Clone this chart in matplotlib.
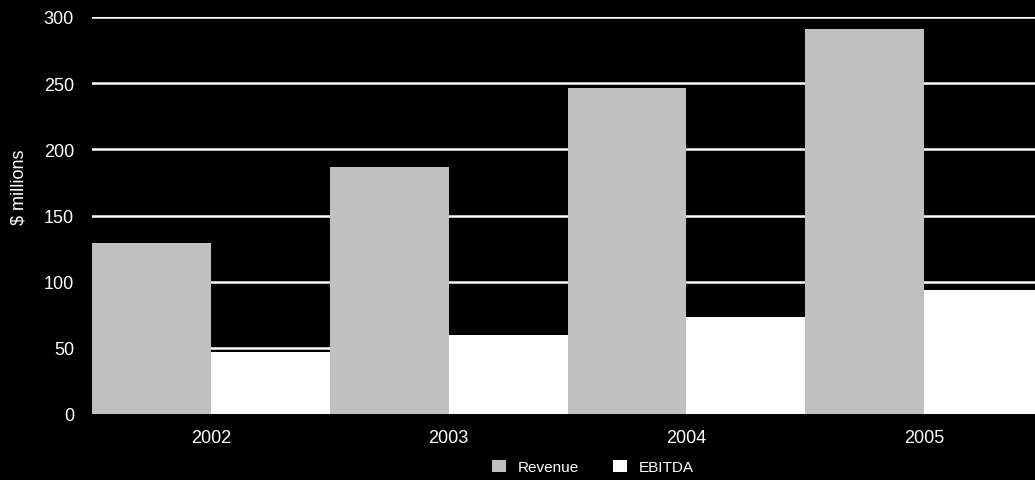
import matplotlib
matplotlib.use("Agg")
import matplotlib.pyplot as plt
from matplotlib.patches import Patch
import numpy as np

years = ["2002", "2003", "2004", "2005"]
revenue = [129, 187, 246, 291]
ebitda = [47, 60, 73, 94]

plt.rcParams["font.family"] = ["Liberation Sans", "DejaVu Sans"]

bg = "black"
rev_color = "#c0c0c0"
ebitda_color = "white"

fig = plt.figure(figsize=(10.35, 4.81), dpi=100, facecolor=bg)
ax = fig.add_axes([92 / 1035, 1 - 415 / 481, 1 - 92 / 1035, (415 - 18) / 481])
ax.set_facecolor(bg)

x = np.arange(len(years))
width = 0.5
ax.bar(x - width / 2, revenue, width, color=rev_color, zorder=3, linewidth=0)
ax.bar(x + width / 2, ebitda, width, color=ebitda_color, zorder=3, linewidth=0)

ax.set_xlim(-0.5, 3.466)
ax.set_ylim(0, 300)
ax.set_yticks(range(0, 301, 50))
ax.set_xticks(x)
ax.set_xticklabels(years)

for y in range(50, 301, 50):
    ax.axhline(y, color="white", linewidth=1.8, zorder=1)

for side in ax.spines.values():
    side.set_visible(False)
ax.tick_params(axis="both", length=0, colors="white", labelsize=13)
ax.tick_params(axis="y", pad=13)
ax.tick_params(axis="x", pad=11)

ax.set_ylabel("$ millions", color="white", fontsize=13)
ax.yaxis.set_label_coords(-0.068, 0.574)

handles = [
    Patch(facecolor=rev_color, edgecolor="none", label="Revenue"),
    Patch(facecolor=ebitda_color, edgecolor="none", label="EBITDA"),
]
fig.legend(
    handles=handles,
    loc="center",
    bbox_to_anchor=(593 / 1035, 1 - 468 / 481),
    ncol=2,
    frameon=False,
    fontsize=11,
    handlelength=0.9,
    handleheight=0.9,
    handletextpad=0.8,
    columnspacing=2.2,
    labelcolor="white",
)

fig.savefig("out.png", dpi=100, facecolor=bg)
